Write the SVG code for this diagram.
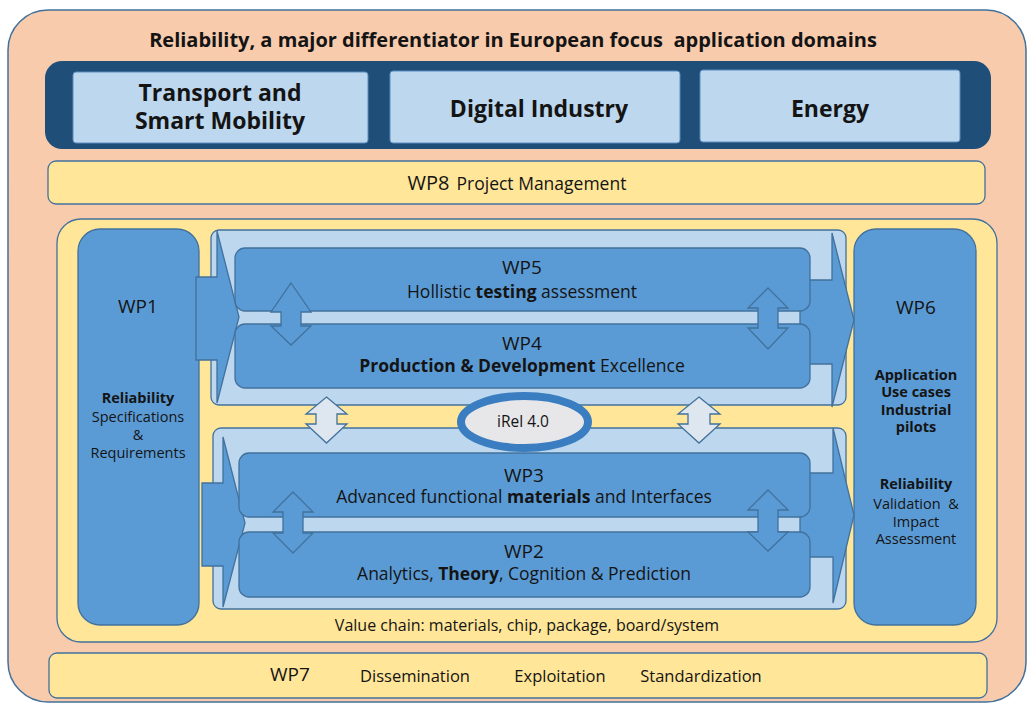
<svg xmlns="http://www.w3.org/2000/svg" width="1028" height="704" viewBox="0 0 1028 704">
<defs>
<style>
text{font-family:"Open Sans","Noto Sans","Liberation Sans",sans-serif;fill:#141414;}
.b{font-weight:bold;}
.mid{text-anchor:middle;}
.bar{fill:#ffe699;stroke:#41719c;stroke-width:1.3;}
.dom{fill:#bdd7ee;stroke:#5a8cc0;stroke-width:1;}
.wp{fill:#5b9bd5;stroke:#41719c;stroke-width:1.3;}
.cont{fill:#bdd7ee;stroke:#41719c;stroke-width:1.3;}
.dbl{fill:#5b9bd5;stroke:#41719c;stroke-width:1.3;stroke-linejoin:miter;}
.dbl2{fill:#dee6f0;stroke:#41719c;stroke-width:1.3;}
.chev{fill:#5b9bd5;stroke:#41719c;stroke-width:1.3;stroke-linejoin:miter;}
.t19{font-size:19px;}
.t17{font-size:17.5px;}
.t15{font-size:14.5px;}
.t23{font-size:23px;}
</style>
</defs>

<g id="frame">
<rect x="8" y="10" width="1018" height="692" rx="40" fill="#f8cbad" stroke="#41719c" stroke-width="1.5"/>
<text class="b mid" x="513" y="47" style="font-size:20px" xml:space="preserve">Reliability, a major differentiator in European focus  application domains</text>
</g>

<g id="domains">
<rect x="45" y="61" width="946" height="88" rx="17" fill="#1f4e79"/>
<g id="transport">
<rect class="dom" x="73" y="72" width="295" height="71" rx="3"/>
<text class="b mid t23" x="220" y="101">Transport and</text>
<text class="b mid t23" x="220" y="129">Smart Mobility</text>
</g>
<g id="digital">
<rect class="dom" x="390" y="71" width="290" height="72" rx="3"/>
<text class="b mid t23" x="539" y="117">Digital Industry</text>
</g>
<g id="energy">
<rect class="dom" x="700" y="70" width="260" height="72" rx="3"/>
<text class="b mid t23" x="830" y="117">Energy</text>
</g>
</g>

<g id="wp8">
<rect class="bar" x="48" y="161" width="937" height="43" rx="8"/>
<text class="mid" x="517" y="190"><tspan style="font-size:20px">WP8</tspan><tspan class="t17" dx="7">Project Management</tspan></text>
</g>

<g id="core">
<rect x="57" y="219" width="940" height="423" rx="24" fill="#ffe699" stroke="#41719c" stroke-width="1.3"/>
<text class="mid" x="527" y="631" style="font-size:16px">Value chain: materials, chip, package, board/system</text>
</g>

<g id="wp1">
<rect class="wp" x="78" y="229" width="121" height="396" rx="22"/>
<text class="mid t19" x="138" y="313">WP1</text>
<text class="mid t15 b" x="138" y="403">Reliability</text>
<text class="mid t15" x="138" y="422">Specifications</text>
<text class="mid t15" x="138" y="440">&amp;</text>
<text class="mid t15" x="138" y="458">Requirements</text>
</g>

<g id="wp6">
<rect class="wp" x="854" y="229" width="122" height="396" rx="22"/>
<text class="mid t19" x="916" y="314">WP6</text>
<text class="mid t15 b" x="916" y="380">Application</text>
<text class="mid t15 b" x="916" y="397">Use cases</text>
<text class="mid t15 b" x="916" y="415">Industrial</text>
<text class="mid t15 b" x="916" y="432">pilots</text>
<text class="mid t15 b" x="916" y="489">Reliability</text>
<text class="mid t15" x="916" y="509" xml:space="preserve">Validation  &amp;</text>
<text class="mid t15" x="916" y="527">Impact</text>
<text class="mid t15" x="916" y="544">Assessment</text>
</g>

<g id="upper-chain">
<rect class="cont" x="211" y="230" width="635" height="175" rx="8"/>
</g>
<g id="lower-chain">
<rect class="cont" x="213" y="428" width="633" height="181" rx="8"/>
</g>

<g id="connectors">
<path class="chev" d="M196,277 L217,277 L217,231 L239,317 L217,403 L217,360 L196,360 Z"/>
<path class="chev" d="M800,280 L832,280 L832,233 L854,320 L832,407 L832,364 L800,364 Z"/>
<path class="chev" d="M202,483 L223,483 L223,437 L245,523 L223,607 L223,566 L202,566 Z"/>
<path class="chev" d="M800,473 L833,473 L833,428 L854,515 L833,603 L833,557 L800,557 Z"/>
</g>

<g id="wp5">
<rect class="wp" x="235" y="248" width="575" height="63" rx="10"/>
<text class="mid t19" x="522" y="274">WP5</text>
<text class="mid t17" x="522" y="298">Hollistic <tspan class="b">testing</tspan> assessment</text>
</g>
<g id="wp4">
<rect class="wp" x="235" y="324" width="575" height="64" rx="10"/>
<text class="mid t19" x="522" y="350">WP4</text>
<text class="mid t17" x="522" y="372"><tspan class="b">Production &amp; Development</tspan> Excellence</text>
</g>
<g id="wp3">
<rect class="wp" x="239" y="453" width="571" height="64" rx="10"/>
<text class="mid t19" x="524" y="482">WP3</text>
<text class="mid t17" x="524" y="503">Advanced functional <tspan class="b">materials</tspan> and Interfaces</text>
</g>
<g id="wp2">
<rect class="wp" x="239" y="532" width="571" height="65" rx="10"/>
<text class="mid t19" x="524" y="558">WP2</text>
<text class="mid t17" x="524" y="580">Analytics, <tspan class="b">Theory</tspan>, Cognition &amp; Prediction</text>
</g>

<g id="links">
<path class="dbl" d="M291,283 L311,312 L301,312 L301,326 L311,326 L291,345 L271,326 L281,326 L281,312 L271,312 Z"/>
<path class="dbl" d="M768,288 L788,308 L778,308 L778,328 L788,328 L768,349 L748,328 L758,328 L758,308 L748,308 Z"/>
<path class="dbl" d="M293,492 L313,512 L303,512 L303,533 L313,533 L293,553 L273,533 L283,533 L283,512 L273,512 Z"/>
<path class="dbl" d="M768,490 L788,510 L778,510 L778,532 L788,532 L768,551 L748,532 L758,532 L758,510 L748,510 Z"/>
<path class="dbl2" d="M326.5,397 L347,414 L337,414 L337,424 L347,424 L326.5,443 L306,424 L316,424 L316,414 L306,414 Z"/>
<path class="dbl2" d="M699,397 L720,414 L710,414 L710,424 L720,424 L699,443 L678,424 L688,424 L688,414 L678,414 Z"/>
</g>

<g id="irel">
<ellipse cx="524.5" cy="422" rx="63.5" ry="26" fill="#e7e7e9" stroke="#3a7dc0" stroke-width="8"/>
<text class="mid" x="523" y="427" style="font-size:15.5px">iRel 4.0</text>
</g>

<g id="wp7">
<rect class="bar" x="49" y="653" width="938" height="45" rx="8"/>
<text class="mid t19" x="290" y="681">WP7</text>
<text class="mid" x="415" y="682" style="font-size:16.5px">Dissemination</text>
<text class="mid" x="560" y="682" style="font-size:16.5px">Exploitation</text>
<text class="mid" x="701" y="682" style="font-size:16.5px">Standardization</text>
</g>
</svg>
